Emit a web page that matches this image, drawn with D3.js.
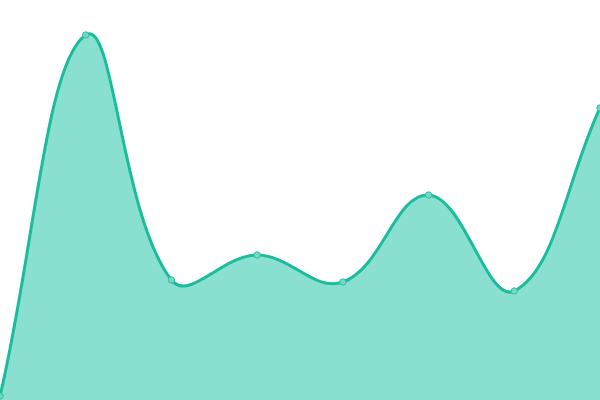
<!DOCTYPE html>
<html>
<head>
<meta charset="utf-8">
<script src="https://cdn.jsdelivr.net/npm/d3@7"></script>
<style>
  html, body { margin: 0; padding: 0; background: #fff; }
  svg { display: block; }
</style>
</head>
<body>
<div id="chart"></div>
<script>
// data (y in chart units, 0 at bottom, 400 at top)
var labels = ["0", "1", "2", "3", "4", "5", "6", "7"];
var values = [4, 365, 120, 145, 118, 205, 109, 292];

var width = 600, height = 400;
var lineColor = "#1abc9c";
var fillColor = "#8ae0d0";
var pointFill = "#72d8c4";
var pointStroke = "#2cc2a5";
var tension = 0.4;

// spline with distance weighted control points (like a tension 0.4 line)
function SplineCurve(context) { this._context = context; }
SplineCurve.prototype = {
	areaStart: function() { this._line = 0; },
	areaEnd: function() { this._line = NaN; },
	lineStart: function() { this._pts = []; },
	point: function(px, py) { this._pts.push([+px, +py]); },
	lineEnd: function() {
		var p = this._pts, n = p.length, ctx = this._context;
		if (n) {
			var cp = p.map(function(cur, i) {
				var prev = p[i - 1] || cur, next = p[i + 1] || cur;
				var d01 = Math.hypot(cur[0] - prev[0], cur[1] - prev[1]);
				var d12 = Math.hypot(next[0] - cur[0], next[1] - cur[1]);
				var s = d01 + d12 || 1;
				var fa = tension * d01 / s, fb = tension * d12 / s;
				var dx = next[0] - prev[0], dy = next[1] - prev[1];
				return {
					inX: cur[0] - fa * dx, inY: cur[1] - fa * dy,
					outX: cur[0] + fb * dx, outY: cur[1] + fb * dy
				};
			});
			if (this._line) ctx.lineTo(p[0][0], p[0][1]);
			else ctx.moveTo(p[0][0], p[0][1]);
			for (var i = 1; i < n; i++) {
				ctx.bezierCurveTo(cp[i - 1].outX, cp[i - 1].outY, cp[i].inX, cp[i].inY, p[i][0], p[i][1]);
			}
		}
		if (this._line) ctx.closePath();
		this._line = 1 - this._line;
	}
};
var curve = function(context) { return new SplineCurve(context); };

var svg = d3.select("#chart").append("svg")
	.attr("width", width).attr("height", height);

var x = d3.scalePoint().domain(labels).range([0, width]);
var y = d3.scaleLinear().domain([0, 400]).range([height, 0]);

var data = labels.map(function(l, i) { return {label: l, value: values[i]}; });

var area = d3.area()
	.x(function(d) { return x(d.label); })
	.y0(height)
	.y1(function(d) { return y(d.value); })
	.curve(curve);

var line = d3.line()
	.x(function(d) { return x(d.label); })
	.y(function(d) { return y(d.value); })
	.curve(curve);

svg.append("path").datum(data)
	.attr("d", area)
	.attr("fill", fillColor);

svg.append("path").datum(data)
	.attr("d", line)
	.attr("fill", "none")
	.attr("stroke", lineColor)
	.attr("stroke-width", 3);

svg.selectAll("circle").data(data).enter().append("circle")
	.attr("cx", function(d) { return x(d.label); })
	.attr("cy", function(d) { return y(d.value); })
	.attr("r", 3.2)
	.attr("fill", pointFill)
	.attr("stroke", pointStroke)
	.attr("stroke-width", 1);
</script>
</body>
</html>
